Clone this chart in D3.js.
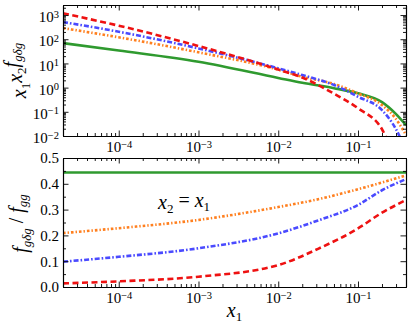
<!DOCTYPE html>
<html>
<head>
<meta charset="utf-8">
<script src="https://cdn.jsdelivr.net/npm/d3@7"></script>
<style>
  body { margin: 0; background: #fff; }
  svg text { font-family: "Liberation Serif", "Times New Roman", serif; fill: #000; }
  .axis path, .axis line { stroke: #000; }
  .axis path { stroke-width: 1.1px; }
</style>
</head>
<body>
<svg id="chart" width="412" height="328"></svg>
<script>
// x grids
const xTop = [2e-5, 1e-4, 1e-3, 1e-2, 2e-2, 5e-2, 0.1, 0.2, 0.3, 0.4];
const xBot = [2e-5, 1e-4, 1e-3, 1e-2, 3.16e-2, 0.1, 0.2, 0.4];

// top panel: x1 x2 f_{g delta g}
const topGreen  = [69, 34, 11.7, 2.5, 1.58, 0.95, 0.58, 0.25, 0.08, 0.028];
const topRed    = [1175, 363, 52.5, 5.6, 2.6, 0.56, 0.14, 0.019, 0.001, 0.0001];
const topBlue   = [513, 204, 41.7, 6.3, 3.3, 1.29, 0.42, 0.117, 0.019, 0.0025];
const topOrange = [288, 120, 28.8, 5.5, 2.8, 1.41, 0.575, 0.19, 0.05, 0.011];

// bottom panel: ratio f_{g delta g} / f_{gg}
const botGreen  = [0.444, 0.444, 0.444, 0.444, 0.444, 0.444, 0.444, 0.444];
const botOrange = [0.209, 0.228, 0.26, 0.31, 0.34, 0.379, 0.405, 0.433];
const botBlue   = [0.098, 0.117, 0.15, 0.208, 0.258, 0.318, 0.375, 0.418];
const botRed    = [0.014, 0.022, 0.04, 0.085, 0.148, 0.227, 0.288, 0.337];

const xTickVals = [1e-4, 1e-3, 1e-2, 1e-1];
const yTopTickVals = [1e-2, 1e-1, 1e0, 1e1, 1e2, 1e3];
const yBotTickVals = [0, 0.1, 0.2, 0.3, 0.4, 0.5];

const styles = {
    green:  { color: '#2f9a2f', dash: null },
    red:    { color: '#ee1111', dash: '6,3.5' },
    blue:   { color: '#4a4aff', dash: '5,2,1.6,2' },
    orange: { color: '#ff7f1e', dash: '2.6,2,1.4,2' }
};

const left = 63, right = 406;
const topPanel = { y0: 5, y1: 136 };
const botPanel = { y0: 158, y1: 287 };

const svg = d3.select('#chart');

const x = d3.scaleLog().domain([2e-5, 0.4]).range([left, right]);
const yTop = d3.scaleLog().domain([1e-2, 2.6e3]).range([topPanel.y1, topPanel.y0]);
const yBot = d3.scaleLinear().domain([0, 0.5]).range([botPanel.y1, botPanel.y0]);

// minor ticks for log x
const xMinor = [];
for (let e = -5; e <= -1; e++) {
    for (let m = 2; m <= 9; m++) {
        const v = m * Math.pow(10, e);
        if (v >= 2e-5 && v <= 0.4) xMinor.push(v);
    }
}
const yTopMinor = [];
for (let e = -2; e <= 3; e++) {
    for (let m = 2; m <= 9; m++) {
        const v = m * Math.pow(10, e);
        if (v <= 2.6e3) yTopMinor.push(v);
    }
}
const yBotMinor = [0.05, 0.15, 0.25, 0.35, 0.45];

function powLabel(sel, d) {
    const e = Math.round(Math.log10(d));
    sel.text(null);
    sel.append('tspan').text('10');
    sel.append('tspan')
        .attr('dy', '-0.45em')
        .style('font-size', '10.5px')
        .text(e < 0 ? '\u2212' + (-e) : String(e));
}

function drawFrame(panel, yScale, yMajors, yMinorVals, logY) {
    const g = svg.append('g');
    // bottom
    g.append('g').attr('class', 'axis').attr('transform', `translate(0,${panel.y1})`)
        .call(d3.axisBottom(x).tickValues(xMinor).tickSize(-3).tickSizeOuter(0).tickFormat(''));
    const bx = g.append('g').attr('class', 'axis').attr('transform', `translate(0,${panel.y1})`)
        .call(d3.axisBottom(x).tickValues(xTickVals).tickSize(-5.5).tickSizeOuter(0).tickPadding(8));
    bx.selectAll('.tick text').style('font-size', '15px').attr('dy', '0.55em')
        .each(function(d) { powLabel(d3.select(this), d); });
    // top
    g.append('g').attr('class', 'axis').attr('transform', `translate(0,${panel.y0})`)
        .call(d3.axisTop(x).tickValues(xMinor).tickSize(-3).tickSizeOuter(0).tickFormat(''));
    g.append('g').attr('class', 'axis').attr('transform', `translate(0,${panel.y0})`)
        .call(d3.axisTop(x).tickValues(xTickVals).tickSize(-5.5).tickSizeOuter(0).tickFormat(''));
    // left
    g.append('g').attr('class', 'axis').attr('transform', `translate(${left},0)`)
        .call(d3.axisLeft(yScale).tickValues(yMinorVals).tickSize(-3).tickSizeOuter(0).tickFormat(''));
    const ly = g.append('g').attr('class', 'axis').attr('transform', `translate(${left},0)`)
        .call(d3.axisLeft(yScale).tickValues(yMajors).tickSize(-5.5).tickSizeOuter(0).tickPadding(4));
    ly.selectAll('.tick text').style('font-size', '15px');
    if (logY) {
        ly.selectAll('.tick text').attr('dy', '0.45em').each(function(d) { powLabel(d3.select(this), d); });
    } else {
        ly.selectAll('.tick text').text(d => d3.format('.1f')(d));
    }
    // right
    g.append('g').attr('class', 'axis').attr('transform', `translate(${right},0)`)
        .call(d3.axisRight(yScale).tickValues(yMinorVals).tickSize(-3).tickSizeOuter(0).tickFormat(''));
    g.append('g').attr('class', 'axis').attr('transform', `translate(${right},0)`)
        .call(d3.axisRight(yScale).tickValues(yMajors).tickSize(-5.5).tickSizeOuter(0).tickFormat(''));
    g.selectAll('.tick line').attr('stroke-width', 0.9);
}

function drawLines(panel, id, yScale, xs, series) {
    svg.append('clipPath').attr('id', id)
        .append('rect')
        .attr('x', left).attr('y', panel.y0)
        .attr('width', right - left).attr('height', panel.y1 - panel.y0);
    const g = svg.append('g').attr('clip-path', `url(#${id})`);
    const line = d3.line()
        .x((d, i) => x(xs[i]))
        .y(d => yScale(d))
        .curve(d3.curveMonotoneX);
    series.forEach(s => {
        const st = styles[s.key];
        g.append('path')
            .attr('d', line(s.values))
            .attr('fill', 'none')
            .attr('stroke', st.color)
            .attr('stroke-width', 2.6)
            .attr('stroke-dasharray', st.dash);
    });
}

drawLines(topPanel, 'clipTop', yTop, xTop, [
    { key: 'green', values: topGreen },
    { key: 'orange', values: topOrange },
    { key: 'blue', values: topBlue },
    { key: 'red', values: topRed }
]);
drawLines(botPanel, 'clipBot', yBot, xBot, [
    { key: 'green', values: botGreen },
    { key: 'orange', values: botOrange },
    { key: 'blue', values: botBlue },
    { key: 'red', values: botRed }
]);

drawFrame(topPanel, yTop, yTopTickVals, yTopMinor, true);
drawFrame(botPanel, yBot, yBotTickVals, yBotMinor, false);

// axis labels (math italic)
function sub(t, txt, italic) {
    t.append('tspan').attr('dy', '0.3em').style('font-size', '13px')
        .style('font-style', italic ? 'italic' : 'normal').text(txt);
}
function up(t, txt, italic) {
    t.append('tspan').attr('dy', '-0.4em')
        .style('font-style', italic ? 'italic' : 'normal').text(txt);
}

const topLabel = svg.append('text')
    .attr('transform', `translate(26,${(topPanel.y0 + topPanel.y1) / 2}) rotate(-90)`)
    .attr('text-anchor', 'middle')
    .style('font-size', '20px').style('font-style', 'italic');
topLabel.append('tspan').text('x');
sub(topLabel, '1', false);
up(topLabel, 'x', true);
sub(topLabel, '2', false);
up(topLabel, 'f', true);
sub(topLabel, 'gδg', true);

const botLabel = svg.append('text')
    .attr('transform', `translate(27,${(botPanel.y0 + botPanel.y1) / 2 + 1}) rotate(-90)`)
    .attr('text-anchor', 'middle')
    .style('font-size', '20px').style('font-style', 'italic');
botLabel.append('tspan').text('f');
sub(botLabel, 'gδg', true);
up(botLabel, ' / ', false);
botLabel.append('tspan').text('f');
sub(botLabel, 'gg', true);

const xLabel = svg.append('text')
    .attr('x', (left + right) / 2).attr('y', 317)
    .attr('text-anchor', 'middle')
    .style('font-size', '20px').style('font-style', 'italic');
xLabel.append('tspan').text('x');
sub(xLabel, '1', false);

const note = svg.append('text')
    .attr('x', 158).attr('y', 209)
    .style('font-size', '20px').style('font-style', 'italic');
note.append('tspan').text('x');
sub(note, '2', false);
note.append('tspan').attr('dy', '-0.3em').style('font-style', 'normal').text(' = ');
note.append('tspan').text('x');
sub(note, '1', false);
</script>
</body>
</html>
